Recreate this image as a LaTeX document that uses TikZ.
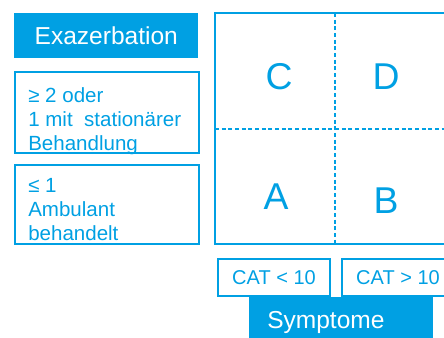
\documentclass[tikz,border=0pt]{standalone}
\usepackage{fontspec}
\setmainfont{Liberation Sans}
\definecolor{copdblue}{RGB}{0,160,227}
\tikzset{
  headbox/.style={fill=copdblue, text=white, inner sep=0pt, anchor=north west,
                  font=\fontsize{18.4}{20}\selectfont},
  framebox/.style={draw=copdblue, line width=1.5pt, inner sep=0pt, anchor=north west},
  boxtext/.style={text=copdblue, inner sep=0pt, anchor=north west, align=left,
                  font=\fontsize{15.4}{18.2}\selectfont},
  quadlabel/.style={text=copdblue, inner sep=0pt, font=\fontsize{28}{30}\selectfont},
  catbox/.style={framebox, minimum width=84pt, minimum height=27.75pt,
                 text=copdblue, font=\fontsize{15}{17}\selectfont},
  splitline/.style={draw=copdblue, line width=1.5pt, dash pattern=on 3pt off 2pt}
}
\begin{document}
\begin{tikzpicture}[x=0.75pt, y=-0.75pt]
    \useasboundingbox (0,0) rectangle (444,338);
    \clip (0,0) rectangle (444,338);

    % Exazerbation side
    \node[headbox, minimum width=138pt, minimum height=33.75pt] (exa) at (14,13) {Exazerbation};
    \node[framebox, minimum width=138pt, minimum height=60.75pt] (high) at (14,71) {};
    \node[framebox, minimum width=138pt, minimum height=59.25pt] (low) at (14,164) {};
    \node[boxtext] (hightxt) at (28,87) {≥ 2 oder\\1 mit\ \ stationärer\\Behandlung};
    \node[boxtext] (lowtxt) at (28,178) {≤ 1\\Ambulant\\behandelt};

    % quadrants
    \coordinate (gridnw) at (215,13);
    \coordinate (gridse) at (470,244);
    \draw[copdblue, line width=1.5pt] (gridnw) rectangle (gridse);
    \coordinate (vtop) at (335,13);
    \coordinate (vbot) at (335,244);
    \coordinate (hleft) at (215,129);
    \coordinate (hright) at (470,129);
    \draw[splitline] (vtop) -- (vbot);
    \draw[splitline] (hleft) -- (hright);

    \node[quadlabel] (qc) at (279,77) {C};
    \node[quadlabel] (qd) at (386,77) {D};
    \node[quadlabel] (qa) at (276,197) {A};
    \node[quadlabel] (qb) at (386,201) {B};

    % Symptome side
    \node[catbox] (catlow) at (217,258) {CAT < 10};
    \node[catbox] (cathigh) at (341,258) {CAT > 10};
    \node[headbox, minimum height=37.5pt, inner xsep=13.5pt, text width=111pt, align=left] (sym) at (249,297) {Symptome};
\end{tikzpicture}
\end{document}
